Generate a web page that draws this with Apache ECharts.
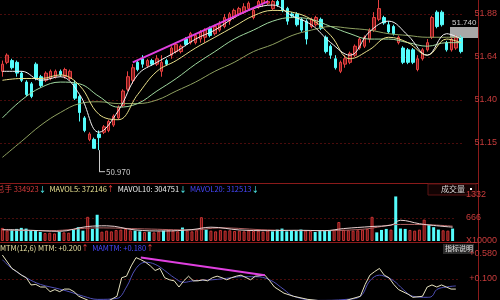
<!DOCTYPE html>
<html><head><meta charset="utf-8">
<script src="https://cdn.jsdelivr.net/npm/echarts@6/dist/echarts.min.js"></script>
<style>html,body{margin:0;padding:0;background:#000;overflow:hidden;width:500px;height:300px}#c{width:500px;height:308px}</style>
</head><body><div id="c"></div>
<script>
// ---- data ----
// candles: [open, close, low, high]
const candles = [
[51.56,51.60,51.53,51.62],[51.61,51.65,51.60,51.66],[51.62,51.58,51.57,51.63],[51.61,51.55,51.53,51.62],
[51.55,51.51,51.50,51.56],[51.50,51.43,51.42,51.51],[51.49,51.42,51.41,51.50],[51.60,51.52,51.51,51.61],
[51.53,51.48,51.47,51.54],[51.51,51.55,51.50,51.56],[51.52,51.56,51.51,51.57],[51.53,51.56,51.52,51.57],
[51.56,51.54,51.53,51.57],[51.53,51.57,51.52,51.58],[51.52,51.56,51.51,51.57],[51.49,51.41,51.40,51.51],
[51.42,51.33,51.28,51.43],[51.30,51.23,51.22,51.31],[51.18,51.21,51.17,51.22],[51.18,51.13,51.13,51.19],
[51.21,51.19,51.12,51.23],[51.22,51.25,51.21,51.26],[51.23,51.28,51.22,51.29],[51.26,51.31,51.25,51.32],
[51.30,51.36,51.29,51.37],[51.37,51.45,51.36,51.46],[51.46,51.53,51.45,51.56],[51.51,51.58,51.49,51.60],
[51.61,51.57,51.56,51.62],[51.63,51.60,51.58,51.65],[51.59,51.62,51.58,51.63],[51.62,51.60,51.59,51.63],
[51.60,51.63,51.59,51.65],[51.56,51.61,51.53,51.65],[51.62,51.60,51.59,51.63],[51.65,51.69,51.63,51.70],
[51.67,51.71,51.66,51.72],[51.67,51.70,51.66,51.71],[51.74,51.71,51.70,51.75],[51.72,51.77,51.71,51.78],
[51.72,51.76,51.71,51.77],[51.74,51.78,51.72,51.79],[51.75,51.79,51.72,51.80],[51.80,51.76,51.75,51.81],
[51.77,51.81,51.76,51.82],[51.79,51.82,51.78,51.84],[51.81,51.86,51.80,51.88],[51.84,51.88,51.82,51.89],
[51.86,51.90,51.85,51.91],[51.88,51.91,51.87,51.92],[51.89,51.92,51.88,51.94],[51.91,51.94,51.90,51.95],
[51.86,51.90,51.85,51.91],[51.92,51.95,51.91,51.96],[51.94,51.96,51.92,51.97],[51.94,51.95,51.93,51.96],
[51.91,51.95,51.90,51.96],[51.95,51.93,51.92,51.96],[51.96,51.90,51.89,51.97],[51.91,51.84,51.82,51.92],
[51.88,51.87,51.86,51.89],[51.88,51.82,51.81,51.89],[51.85,51.79,51.78,51.86],[51.84,51.74,51.71,51.85],
[51.81,51.85,51.80,51.86],[51.82,51.86,51.81,51.87],[51.85,51.80,51.79,51.86],[51.75,51.67,51.66,51.76],
[51.70,51.65,51.63,51.71],[51.63,51.58,51.57,51.65],[51.56,51.61,51.55,51.62],[51.60,51.63,51.58,51.65],
[51.61,51.66,51.60,51.67],[51.65,51.70,51.64,51.71],[51.69,51.74,51.68,51.75],[51.70,51.75,51.69,51.76],
[51.74,51.79,51.72,51.80],[51.79,51.86,51.78,51.89],[51.85,51.91,51.84,51.96],[51.86,51.83,51.82,51.87],
[51.82,51.78,51.77,51.84],[51.81,51.77,51.76,51.82],[51.72,51.75,51.71,51.76],[51.69,51.61,51.60,51.70],
[51.68,51.61,51.60,51.69],[51.68,51.61,51.60,51.69],[51.57,51.63,51.56,51.65],[51.63,51.68,51.62,51.69],
[51.68,51.72,51.67,51.74],[51.75,51.86,51.74,51.87],[51.89,51.81,51.80,51.90],[51.89,51.82,51.81,51.90],
[51.72,51.68,51.67,51.73],[51.68,51.74,51.67,51.75],[51.69,51.75,51.68,51.76],[51.75,51.67,51.66,51.76]
];
const volumes = [
380,300,330,350,380,360,310,300,260,230,240,220,260,250,240,330,
400,300,700,350,760,270,300,280,320,330,350,310,300,280,260,270,
250,280,300,330,300,280,390,300,280,310,690,330,300,280,320,300,
310,290,300,280,310,290,300,270,300,280,330,360,280,300,290,330,
300,290,260,300,310,300,320,550,330,310,300,310,330,350,700,250,
320,350,330,1290,360,350,320,300,330,620,460,400,330,310,300,360
];
// moving average lines: [index, value]
const ma5 = [[0,51.56],[4,51.56],[8,51.51],[12,51.53],[16,51.43],[20,51.22],[24,51.34],[28,51.54],[32,51.61],[36,51.67],[40,51.74],[44,51.79],[48,51.86],[52,51.91],[56,51.93],[60,51.87],[64,51.82],[68,51.72],[72,51.65],[76,51.78],[80,51.84],[84,51.76],[88,51.65],[92,51.77],[95,51.74]];
const ma10 = [[0,51.51],[4,51.52],[8,51.52],[12,51.54],[16,51.48],[20,51.32],[24,51.29],[28,51.43],[32,51.56],[36,51.62],[40,51.69],[44,51.75],[48,51.81],[52,51.87],[56,51.90],[60,51.89],[64,51.85],[68,51.76],[72,51.63],[76,51.68],[80,51.75],[84,51.72],[88,51.65],[92,51.74],[95,51.72]];
const ma20 = [[0,51.30],[4,51.40],[8,51.47],[12,51.50],[16,51.49],[20,51.42],[24,51.36],[28,51.38],[32,51.45],[36,51.52],[40,51.60],[44,51.67],[48,51.74],[52,51.79],[56,51.84],[60,51.86],[64,51.85],[68,51.81],[72,51.77],[76,51.74],[80,51.74],[84,51.72],[88,51.70],[92,51.72],[95,51.72]];
const ma60 = [[0,51.08],[4,51.17],[8,51.26],[12,51.33],[16,51.38],[20,51.39],[24,51.38],[28,51.38],[32,51.40],[36,51.45],[40,51.50],[44,51.56],[48,51.61],[52,51.67],[56,51.71],[60,51.76],[64,51.79],[68,51.81],[72,51.80],[76,51.79],[80,51.77],[84,51.76],[88,51.75],[92,51.75],[95,51.75]];
const priceTrend = [[27,51.61],[55,51.95]];
const mavol5 = [[0,330],[6,310],[12,280],[18,420],[22,440],[28,320],[34,290],[40,330],[44,400],[50,320],[56,300],[62,310],[68,300],[72,360],[78,420],[82,460],[84,600],[88,500],[91,450],[95,400]];
const mavol10 = [[0,320],[10,300],[20,380],[30,350],[40,320],[46,380],[56,320],[66,300],[76,340],[84,480],[90,470],[95,430]];
const mtm = [[0,0.56],[2,0.30],[3,0.24],[4,0.17],[5,0.12],[6,-0.02],[7,-0.01],[8,-0.06],[9,-0.06],[10,-0.15],[11,-0.11],[12,-0.15],[13,-0.10],[14,-0.10],[15,-0.15],[16,-0.24],[18,-0.32],[20,-0.36],[22,-0.34],[24,-0.24],[25,0.12],[26,0.15],[27,0.35],[28,0.51],[29,0.47],[30,0.42],[31,0.35],[32,0.26],[33,0.30],[34,0.12],[35,0.08],[36,0.06],[37,-0.06],[38,0.06],[39,0.15],[40,0.06],[41,0.06],[42,0.08],[43,0.06],[44,0.12],[45,0.15],[46,0.12],[47,0.08],[48,0.12],[49,0.15],[50,0.17],[52,0.08],[53,0.15],[55,0.17],[56,0.06],[57,-0.06],[59,-0.18],[61,-0.24],[64,-0.30],[68,-0.34],[72,-0.32],[75,-0.24],[76,-0.01],[77,0.17],[78,0.24],[79,0.30],[80,0.17],[81,0.12],[82,-0.01],[83,-0.11],[85,-0.20],[86,-0.26],[88,-0.24],[89,-0.06],[90,-0.02],[91,-0.06],[92,-0.02],[93,-0.06],[94,-0.10],[95,-0.10]];
const mamtm = [[0,0.47],[2,0.30],[5,0.12],[8,-0.01],[12,-0.10],[15,-0.18],[17,-0.24],[20,-0.30],[24,-0.28],[26,-0.06],[28,0.30],[30,0.42],[32,0.38],[34,0.26],[36,0.12],[38,0.03],[40,0.06],[44,0.08],[48,0.12],[50,0.14],[53,0.14],[56,0.08],[59,-0.11],[61,-0.24],[66,-0.32],[72,-0.30],[75,-0.24],[77,0.06],[79,0.17],[80,0.15],[82,0.06],[84,-0.11],[86,-0.24],[89,-0.26],[90,-0.24],[91,-0.11],[93,-0.06],[95,-0.04]];
const mtmTrend = [[29,0.51],[55,0.17]];
const priceTickLabels = ['', '51.15', '51.40', '51.64', '51.88'];
const volTickLabels = ['X10000', '666', '1332'];
const lowIndex = 20, lowLabel = '50.970';
const lastPriceLabel = '51.740';
const volTitle = {total:'334923', mavol5:'372146', mavol10:'304751', mavol20:'312513'};
const mtmTitle = {mtm:'+0.200', mamtm:'+0.180'};

const categories = candles.map((d, i) => String(i + 1));
const volData = volumes.map((v, i) => {
  const up = candles[i][1] >= candles[i][0];
  return {value: v, itemStyle: up ? {color:'#5a0e0e', borderColor:'#c83434', borderWidth:1} : {color:'#54fcfc'}};
});

const F = '"Noto Sans CJK SC", "Noto Sans", sans-serif';
const axisLabelStyle = {color:'#c83c3c', fontSize:9, fontFamily:'"Liberation Sans", sans-serif', margin:3};
const split = {show:true, showMinLine:false, showMaxLine:false, lineStyle:{color:'#4a0c0c', type:[2,2]}};
function tickLabel(v, min, step, labels) {
  const k = (v - min) / step, r = Math.round(k);
  return Math.abs(k - r) < 0.01 ? (labels[r] || '') : '';
}
const TF = '7.5px ' + F;

const chart = echarts.init(document.getElementById('c'), null, {renderer:'canvas'});
chart.setOption({
  backgroundColor:'#000',
  animation:false,
  grid:[
    {left:0, right:30, top:0, bottom:122},
    {left:0, right:30, top:195, bottom:67},
    {left:0, right:30, top:254, bottom:0}
  ],
  xAxis:[0,1,2].map(g => ({type:'category', gridIndex:g, data:categories, show:false, boundaryGap:true})),
  yAxis:[
    {type:'value', gridIndex:0, position:'right', offset:8, min:50.92, max:51.958, interval:0.24,
     axisLine:{show:false}, axisTick:{show:false}, splitLine:split,
     axisLabel:Object.assign({}, axisLabelStyle, {showMaxLabel:false, formatter:v => tickLabel(v, 50.92, 0.24, priceTickLabels)})},
    {type:'value', gridIndex:1, position:'right', offset:8, min:0, max:1332, interval:666,
     axisLine:{show:false}, axisTick:{show:false}, splitLine:split,
     axisLabel:Object.assign({}, axisLabelStyle, {formatter:v => tickLabel(v, 0, 666, volTickLabels)})},
    {type:'value', gridIndex:2, position:'right', offset:8, min:-0.38, max:0.58, interval:0.48,
     axisLine:{show:false}, axisTick:{show:false}, splitLine:split,
     axisLabel:Object.assign({}, axisLabelStyle, {formatter:v => (v >= 0 ? '+' : '') + v.toFixed(3)})}
  ],
  series:[
    {type:'candlestick', xAxisIndex:0, yAxisIndex:0, data:candles, barWidth:3,
     itemStyle:{color:'#7a1a1a', color0:'#54fcfc', borderColor:'#e84040', borderColor0:'#54fcfc', borderWidth:1},
     markLine:{silent:true, symbol:['none','none'], label:{show:false},
       lineStyle:{color:'#cccccc', width:1, type:'solid'},
       data:[[{coord:[lowIndex, candles[lowIndex][2]]},{coord:[lowIndex, 51.00]}]]},
     markPoint:{silent:true, data:[{coord:[lowIndex, 51.00], symbol:'rect', symbolSize:[6,1], symbolOffset:[3,0],
       itemStyle:{color:'#cccccc'},
       label:{show:true, position:'right', distance:1, formatter:lowLabel, color:'#cccccc', fontSize:8, fontFamily:F}}]}
    },
    {type:'line', xAxisIndex:0, yAxisIndex:0, data:ma60, smooth:0.4, symbol:'none', lineStyle:{color:'#8ea060', width:1}},
    {type:'line', xAxisIndex:0, yAxisIndex:0, data:ma20, smooth:0.4, symbol:'none', lineStyle:{color:'#9fd89f', width:1}},
    {type:'line', xAxisIndex:0, yAxisIndex:0, data:ma10, smooth:0.4, symbol:'none', lineStyle:{color:'#e8df8a', width:1}},
    {type:'line', xAxisIndex:0, yAxisIndex:0, data:ma5, smooth:0.4, symbol:'none', lineStyle:{color:'#f2f2f2', width:1}},
    {type:'line', xAxisIndex:0, yAxisIndex:0, data:priceTrend, symbol:'none', lineStyle:{color:'#e040e0', width:2}},
    {type:'bar', xAxisIndex:1, yAxisIndex:1, data:volData, barWidth:3},
    {type:'line', xAxisIndex:1, yAxisIndex:1, data:mavol10, smooth:0.4, symbol:'none', lineStyle:{color:'#b06060', width:1}},
    {type:'line', xAxisIndex:1, yAxisIndex:1, data:mavol5, smooth:0.4, symbol:'none', lineStyle:{color:'#e8d0d0', width:1}},
    {type:'line', xAxisIndex:2, yAxisIndex:2, data:mamtm, smooth:0.4, symbol:'none', lineStyle:{color:'#5050b8', width:1}},
    {type:'line', xAxisIndex:2, yAxisIndex:2, data:mtm, symbol:'none', lineStyle:{color:'#e8e4c0', width:1}},
    {type:'line', xAxisIndex:2, yAxisIndex:2, data:mtmTrend, symbol:'none', lineStyle:{color:'#e040e0', width:2}}
  ],
  graphic:[
    {type:'line', shape:{x1:0, y1:183.5, x2:478, y2:183.5}, style:{stroke:'#8a1a1a', lineWidth:1}, silent:true},
    {type:'line', shape:{x1:0, y1:242.5, x2:478, y2:242.5}, style:{stroke:'#8a1a1a', lineWidth:1}, silent:true},
    {type:'line', shape:{x1:478.5, y1:0, x2:478.5, y2:308}, style:{stroke:'#8a1a1a', lineWidth:1}, silent:true},
    {type:'rect', shape:{x:450, y:27, width:28, height:11}, style:{fill:'#a8a8a8'}, silent:true},
    {type:'text', x:452, y:19, style:{text:lastPriceLabel, fill:'#d0d0d0', font:'8px "Liberation Sans", sans-serif'}, silent:true},
    {type:'rect', shape:{x:428, y:184, width:48, height:11}, style:{fill:'#120303', stroke:'#5a1414', lineWidth:1}, silent:true},
    {type:'text', x:441, y:185, style:{text:'成交量', fill:'#d8d8d8', font:'8px ' + F}, silent:true},
    {type:'rect', shape:{x:470, y:188, width:2, height:2}, style:{fill:'#ffffff'}, silent:true},
    {type:'rect', shape:{x:443, y:244, width:31, height:10}, style:{fill:'#2c2c2c'}, silent:true},
    {type:'text', x:445, y:245, style:{text:'指标说明', fill:'#e0e0e0', font:'7px ' + F}, silent:true},
    {type:'text', x:-3, y:185, silent:true, style:{
      text:'{a|总手 ' + volTitle.total + '}{d|↓}  {b|MAVOL5: ' + volTitle.mavol5 + '}{u|↑}  {c|MAVOL10: ' + volTitle.mavol10 + '}{d|↓}  {e|MAVOL20: ' + volTitle.mavol20 + '}{d|↓}',
      font:TF,
      rich:{a:{fill:'#d83c3c', font:TF}, b:{fill:'#e8e090', font:TF}, c:{fill:'#f0f0f0', font:TF},
            e:{fill:'#4848ff', font:TF}, d:{fill:'#54fcfc', font:TF}, u:{fill:'#ff4040', font:TF}}}},
    {type:'text', x:0, y:244, silent:true, style:{
      text:'{a|MTM(12,6) MTM: ' + mtmTitle.mtm + '}{u|↑}  {e|MAMTM: ' + mtmTitle.mamtm + '}{u|↑}',
      font:TF,
      rich:{a:{fill:'#e8e0a0', font:TF}, e:{fill:'#4848ff', font:TF}, u:{fill:'#ff4040', font:TF}}}}
  ]
});
</script></body></html>
